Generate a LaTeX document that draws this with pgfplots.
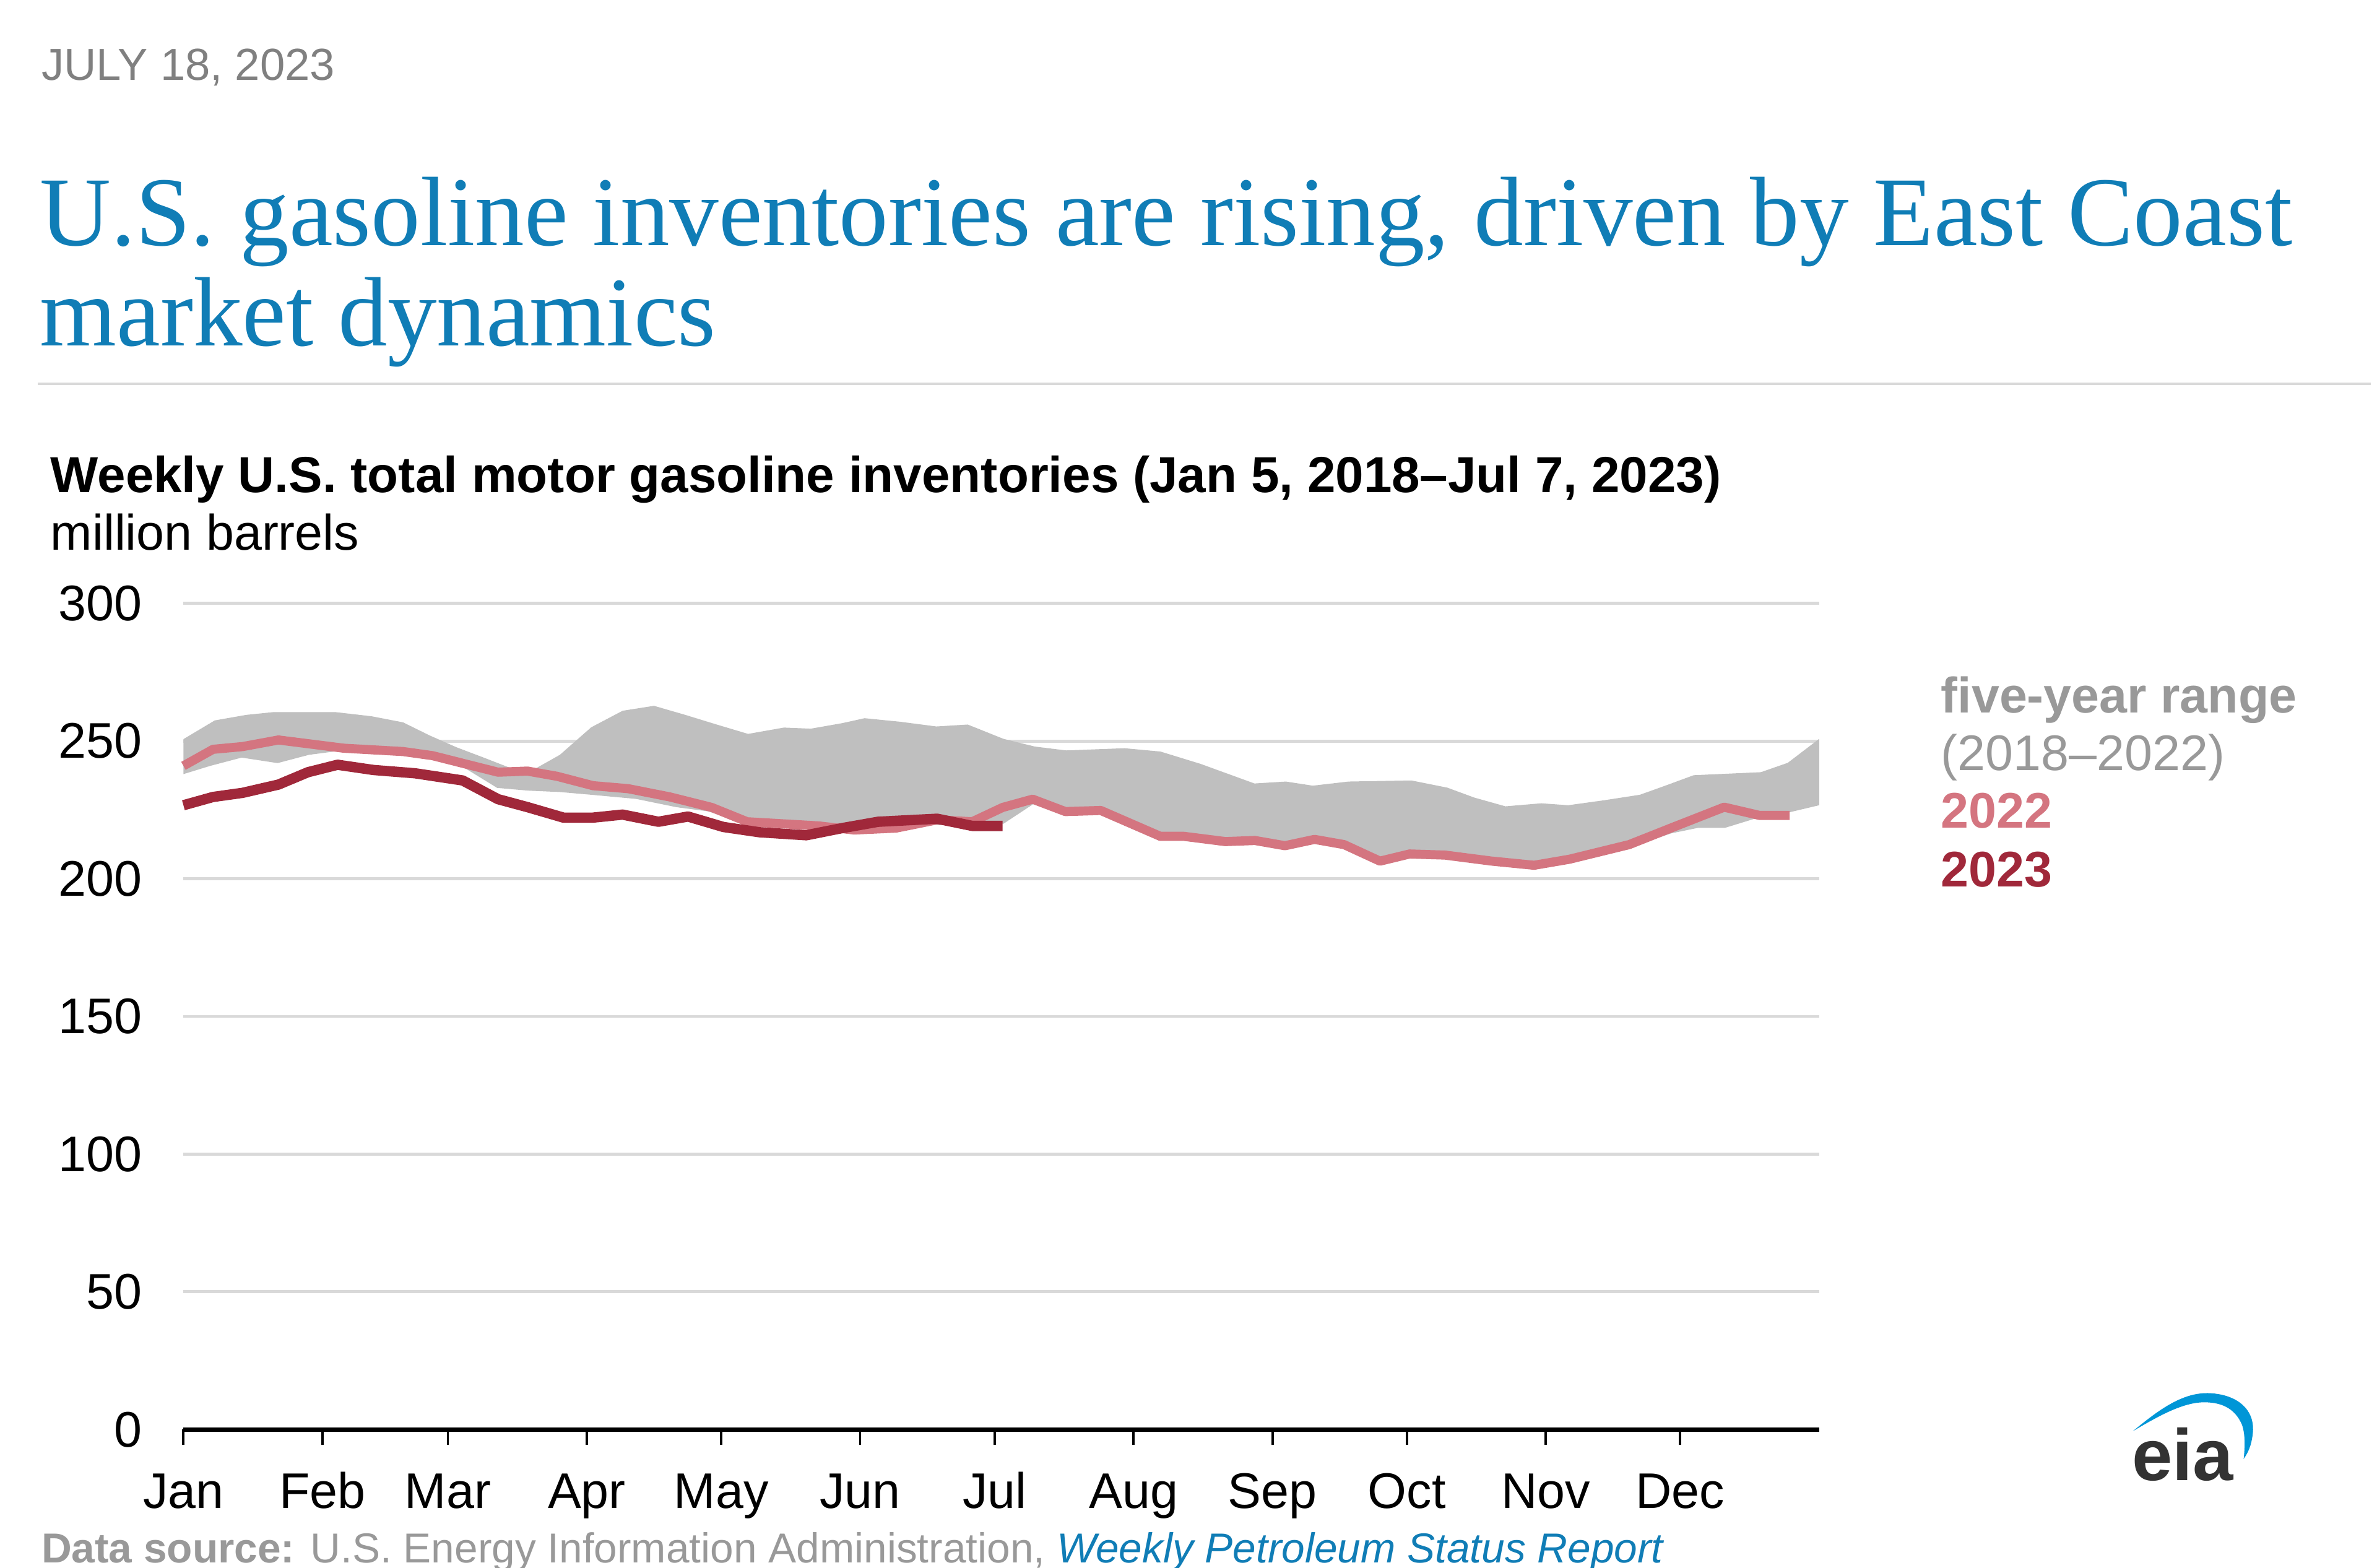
\documentclass[border=0pt]{standalone}
\usepackage{fontspec}
\setmainfont{Liberation Sans}
\newfontfamily\seriffont{Liberation Serif}
\usepackage{pgfplots}
\pgfplotsset{compat=1.18}
\definecolor{titleblue}{RGB}{16,125,182}
\definecolor{bandgray}{RGB}{191,191,191}
\definecolor{pink22}{RGB}{212,117,128}
\definecolor{red23}{RGB}{160,40,58}
\definecolor{gridgray}{RGB}{217,217,217}
\definecolor{dategray}{RGB}{128,128,128}
\definecolor{leggray}{RGB}{153,153,153}
\definecolor{eiablue}{RGB}{0,150,215}
\definecolor{eiadark}{RGB}{51,51,51}
\newcommand{\fs}{\fontsize{16.5}{19}\selectfont}
\begin{document}
\begin{tikzpicture}
\path[use as bounding box] (0,0) rectangle (784pt,517pt);
% header
\node[anchor=base west, inner sep=0, text=dategray, font=\fontsize{14.8}{17}\selectfont] at (13.5pt,490.5pt) {JULY 18, 2023};
\node[anchor=base west, inner sep=0, text=titleblue, font=\seriffont\fontsize{32.5}{33}\selectfont] at (13pt,436pt) {U.S. gasoline inventories are rising, driven by East Coast};
\node[anchor=base west, inner sep=0, text=titleblue, font=\seriffont\fontsize{32.5}{33}\selectfont] at (13pt,403pt) {market dynamics};
\draw[gridgray, line width=0.8pt] (12.5pt,390.5pt) -- (782pt,390.5pt);
\node[anchor=base west, inner sep=0, font=\bfseries\fontsize{16.7}{19}\selectfont] at (16.5pt,354.5pt) {Weekly U.S. total motor gasoline inventories (Jan 5, 2018--Jul 7, 2023)};
\node[anchor=base west, inner sep=0, font=\fs] at (16.5pt,335.5pt) {million barrels};
% legend
\node[anchor=base west, inner sep=0, text=leggray, font=\bfseries\fs] at (640pt,282pt) {five-year range};
\node[anchor=base west, inner sep=0, text=leggray, font=\fs] at (640pt,263pt) {(2018--2022)};
\node[anchor=base west, inner sep=0, text=pink22, font=\bfseries\fs] at (640pt,244pt) {2022};
\node[anchor=base west, inner sep=0, text=red23, font=\bfseries\fs] at (640pt,224.5pt) {2023};
% source
\node[anchor=base west, inner sep=0, text=leggray, font=\fontsize{13.8}{16}\selectfont] at (13.5pt,1.5pt) {\textbf{Data source:} U.S. Energy Information Administration, \textcolor{titleblue}{\itshape Weekly Petroleum Status Report}};
% eia logo
\node[anchor=base west, inner sep=0, text=eiadark, font=\bfseries\fontsize{24}{24}\selectfont] at (703pt,28.7pt) {eia};
\fill[eiablue] (703.5pt,45pt) .. controls (712pt,52pt) and (720pt,58pt) .. (729pt,57.5pt) .. controls (738pt,57pt) and (744pt,52pt) .. (743pt,44pt) .. controls (742.5pt,40pt) and (741.5pt,38pt) .. (740pt,35.8pt) .. controls (740.5pt,40pt) and (740.5pt,44pt) .. (739.5pt,47pt) .. controls (737pt,53pt) and (732pt,54.5pt) .. (727pt,54.5pt) .. controls (720pt,54.5pt) and (712pt,50pt) .. (703.5pt,45pt) -- cycle;
\begin{axis}[
  at={(60.5pt,45.5pt)}, anchor=south west,
  scale only axis, width=539.5pt, height=272.5pt,
  xmin=0, xmax=365, ymin=0, ymax=300,
  axis lines=left,
  axis line style={-},
  y axis line style={draw=none},
  x axis line style={black, line width=1.5pt},
  ytick={0,50,100,150,200,250,300},
  ymajorgrids, grid style={gridgray, line width=1pt},
  ytick style={draw=none},
  xtick={0,31,59,90,120,151,181,212,243,273,304,334},
  xticklabels={Jan,Feb,Mar,Apr,May,Jun,Jul,Aug,Sep,Oct,Nov,Dec},
  xtick style={black, line width=0.8pt},
  tick align=outside, major tick length=5pt,
  /pgf/number format/assume math mode=true,
  ticklabel style={font=\fs},
  yticklabel style={anchor=east, inner sep=0pt, xshift=-8.5pt},
  xticklabel style={anchor=base, inner sep=0pt, yshift=-21pt},
  clip=false,
]
% five-year range (upper edge forward, lower edge backward)
\addplot[draw=none, fill=bandgray] coordinates {
(0,250.7) (7,257.5) (14,259.5) (20,260.5) (34,260.5) (42,259) (49,256.8) (55,252) (61,247.7) (67,244) (73,240.2) (78,239.5) (84,245) (91,255) (98,261) (105,262.8) (112,259.5) (119,256) (126,252.6) (134,254.9) (140,254.5) (147,256.5) (152,258.3) (160,257) (168,255.3) (175,256) (183,250.8) (190,248) (197,246.6) (210,247.4) (218,246.2) (227,241.7) (239,234.6) (246,235.3) (252,233.8) (260,235.3) (274,235.7) (282,233.1) (288,229.5) (295,226.3) (303,227.4) (309,226.7) (317,228.5) (325,230.5) (331,234) (337,237.6) (352,238.7) (358,242.1) (365,250.8)
(365,226.7) (358,224) (352,222.5) (344,218.5) (338,218.5) (332,216.5) (323,211.5) (309,206) (301,204) (292,205.5) (282,207.5) (274,208) (267,205.5) (259,211.5) (252,213.5) (246,211) (239,213) (233,212.5) (223,214.5) (218,214.5) (205,224) (197,223.5) (190,227.5) (183,220) (175,219.5) (165,219.5) (156,217) (147,217) (140,218.5) (134,219) (126,220) (117,224.5) (110,226) (101,229) (91,230.5) (84,231.5) (77,232) (70,233) (63,240) (56,244) (49,245.5) (42,246) (35,246.5) (28,245) (21,242) (13,244) (6,241) (0,238)
} -- cycle;
% 2022
\addplot[pink22, line width=3pt, line join=round] coordinates {
(0,241) (6.6,247) (13.2,248) (21.2,250.4) (35.8,247.4) (49,246.2) (55.6,244.7) (70.2,238.7) (76.8,239.1) (83.4,237.2) (91.4,233.8) (99.3,232.7) (108.6,229.7) (117.9,225.9) (125.8,220.7) (141.7,219.2) (149.7,217.7) (159,218.4) (168.2,221.4) (176,220.7) (182.8,225.9) (189.5,228.9) (196.8,224.4) (204.7,224.8) (218,215.4) (223.3,215.4) (232.5,213.5) (239.1,213.9) (245.8,212) (252.4,214.3) (259,212.4) (267,206.4) (273.6,209) (281.5,208.6) (292,206.4) (301.4,204.9) (309.3,207.1) (322.6,212.4) (331.9,218.4) (343.8,226) (351.7,223) (358.4,223)
};
% 2023
\addplot[red23, line width=3.4pt, line join=round] coordinates {
(0,226.7) (6.6,229.7) (13.2,231.2) (21.2,234.2) (27.8,238.7) (34.4,241.4) (42.4,239.5) (51.7,238.3) (62.3,235.7) (70.2,228.9) (76.8,226) (84.8,222.2) (91.4,222.2) (98,223.3) (106,220.7) (112.6,222.6) (120.5,218.8) (128.5,216.9) (139,215.8) (147,218.4) (155,220.7) (168.2,221.8) (176,219.2) (182.8,219.2)
};
\end{axis}
\end{tikzpicture}
\end{document}
